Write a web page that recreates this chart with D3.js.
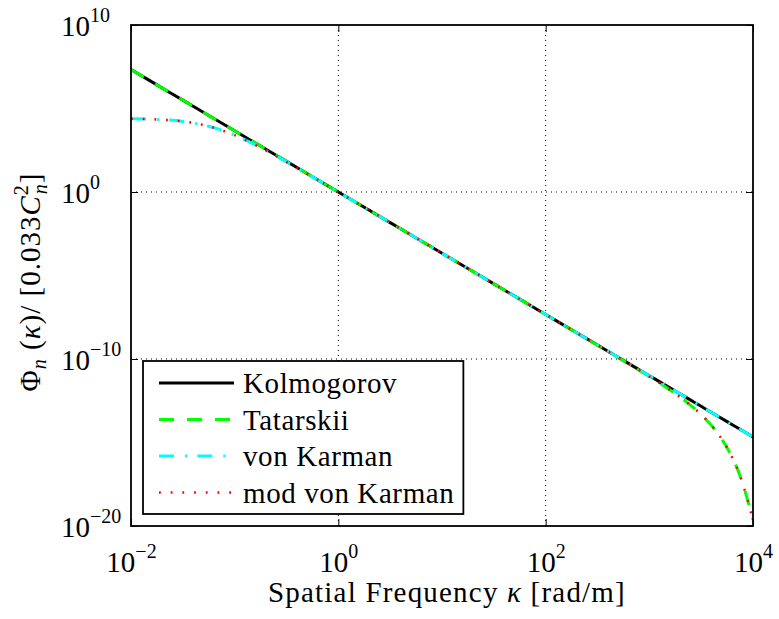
<!DOCTYPE html>
<html>
<head>
<meta charset="utf-8">
<script src="https://cdn.jsdelivr.net/npm/d3@7"></script>
<style>
  html, body { margin: 0; padding: 0; background: #fff; }
</style>
</head>
<body>
<svg id="chart" width="779" height="619"></svg>
<script>
// ---- data ----
const kappa = [1e-2, 1.778e-2, 3.162e-2, 5.623e-2, 0.1, 0.1778, 0.3162, 0.5623, 1, 1.778,
  3.162, 5.623, 10, 17.78, 31.62, 56.23, 100, 177.8, 316.2, 562.3,
  1000, 1334, 1778, 2371, 3162, 4217, 5623, 7499, 1e4];

const kolmogorov = [2.154e7, 2.610e6, 3.162e5, 3.831e4, 4642, 562.3, 68.13, 8.254, 1, 0.1212,
  1.468e-2, 1.778e-3, 2.154e-4, 2.610e-5, 3.162e-6, 3.831e-7, 4.642e-8, 5.623e-9, 6.813e-10, 8.254e-11,
  1e-11, 3.481e-12, 1.212e-12, 4.217e-13, 1.468e-13, 5.109e-14, 1.778e-14, 6.190e-15, 2.154e-15];

const tatarskii = [2.154e7, 2.610e6, 3.162e5, 3.831e4, 4642, 562.3, 68.13, 8.254, 1, 0.1212,
  1.468e-2, 1.778e-3, 2.154e-4, 2.610e-5, 3.162e-6, 3.831e-7, 4.642e-8, 5.603e-9, 6.735e-10, 7.962e-11,
  8.921e-12, 2.841e-12, 8.443e-13, 2.219e-13, 4.687e-14, 6.709e-15, 4.810e-16, 1.009e-17, 2.373e-20];

const vonKarman = [2.437e4, 2.214e4, 1.687e4, 8.673e3, 2522, 453.2, 63.45, 8.066, 0.9928, 0.1209,
  1.468e-2, 1.778e-3, 2.154e-4, 2.610e-5, 3.162e-6, 3.831e-7, 4.642e-8, 5.623e-9, 6.813e-10, 8.254e-11,
  1e-11, 3.481e-12, 1.212e-12, 4.217e-13, 1.468e-13, 5.109e-14, 1.778e-14, 6.190e-15, 2.154e-15];

const modVonKarman = [2.437e4, 2.214e4, 1.687e4, 8.673e3, 2522, 453.2, 63.45, 8.066, 0.9928, 0.1209,
  1.468e-2, 1.778e-3, 2.154e-4, 2.610e-5, 3.162e-6, 3.831e-7, 4.642e-8, 5.603e-9, 6.735e-10, 7.962e-11,
  8.921e-12, 2.841e-12, 8.443e-13, 2.219e-13, 4.687e-14, 6.709e-15, 4.810e-16, 1.009e-17, 2.373e-20];

const seriesNames = ["Kolmogorov", "Tatarskii", "von Karman", "mod von Karman"];
const xTickValues = [1e-2, 1e0, 1e2, 1e4];
const xTickExponents = ["−2", "0", "2", "4"];
const yTickValues = [1e-20, 1e-10, 1e0, 1e10];
const yTickExponents = ["−20", "−10", "0", "10"];

// ---- layout ----
const FONT = "Liberation Serif";
const L = 131, R = 753, T = 25, B = 526;
const svg = d3.select("#chart").style("font-family", FONT);
const x = d3.scaleLog().domain([1e-2, 1e4]).range([L, R]);
const y = d3.scaleLog().domain([1e-20, 1e10]).range([B, T]);

const styles = [
  { color: "#000000", width: 3, dash: null },
  { color: "#00ff00", width: 3, dash: "15,13" },
  { color: "#00ffff", width: 3, dash: "15,11,2,10.3" },
  { color: "#ff0000", width: 2.5, dash: "1.8,9.9" }
];
const seriesData = [kolmogorov, tatarskii, vonKarman, modVonKarman];

svg.append("defs").append("clipPath").attr("id", "clip")
  .append("rect").attr("x", L).attr("y", T).attr("width", R - L).attr("height", B - T);

// grid
const grid = svg.append("g");
xTickValues.filter(v => v > 1e-2 && v < 1e4).forEach(v => {
  grid.append("line").attr("x1", x(v)).attr("x2", x(v)).attr("y1", T).attr("y2", B)
    .attr("stroke", "#000").attr("stroke-width", 1).attr("stroke-dasharray", "1,4");
});
yTickValues.filter(v => v > 1e-20 && v < 1e10).forEach(v => {
  grid.append("line").attr("x1", L).attr("x2", R).attr("y1", y(v)).attr("y2", y(v))
    .attr("stroke", "#000").attr("stroke-width", 1).attr("stroke-dasharray", "1,4");
});

// lines
const line = d3.line().x((d, i) => x(kappa[i])).y(d => y(d)).curve(d3.curveMonotoneX);
const lines = svg.append("g").attr("clip-path", "url(#clip)");
seriesData.forEach((s, k) => {
  lines.append("path").attr("d", line(s)).attr("fill", "none")
    .attr("stroke", styles[k].color).attr("stroke-width", styles[k].width)
    .attr("stroke-dasharray", styles[k].dash);
});

// axes
function supLabels(sel, exps) {
  sel.attr("font-family", null).style("font-family", FONT);
  sel.selectAll(".tick text").each(function (d, i) {
    const t = d3.select(this);
    t.text(null).attr("fill", "#000").attr("font-size", 29).style("font-family", FONT);
    t.append("tspan").text("10");
    t.append("tspan").attr("font-size", 20).attr("dy", -14).text(exps[i]);
  });
}
const xAxis = svg.append("g").attr("transform", `translate(0,${B})`)
  .call(d3.axisBottom(x).tickValues(xTickValues).tickSizeInner(-7).tickSizeOuter(0).tickPadding(0));
xAxis.select(".domain").remove();
supLabels(xAxis, xTickExponents);
xAxis.selectAll(".tick text").attr("y", 45.5).attr("dy", null).attr("text-anchor", "middle");

const xAxisTop = svg.append("g").attr("transform", `translate(0,${T})`)
  .call(d3.axisTop(x).tickValues(xTickValues).tickSizeInner(-7).tickSizeOuter(0).tickFormat(""));
xAxisTop.select(".domain").remove();

const yAxis = svg.append("g").attr("transform", `translate(${L},0)`)
  .call(d3.axisLeft(y).tickValues(yTickValues).tickSizeInner(-7).tickSizeOuter(0));
yAxis.select(".domain").remove();
supLabels(yAxis, yTickExponents);
yAxis.selectAll(".tick text").attr("x", -70).attr("dy", null).attr("y", 10).attr("text-anchor", "start");

const yAxisRight = svg.append("g").attr("transform", `translate(${R},0)`)
  .call(d3.axisRight(y).tickValues(yTickValues).tickSizeInner(-7).tickSizeOuter(0).tickFormat(""));
yAxisRight.select(".domain").remove();

svg.selectAll(".tick line").attr("stroke", "#000").attr("stroke-width", 1);

// frame
svg.append("rect").attr("x", L).attr("y", T).attr("width", R - L).attr("height", B - T)
  .attr("fill", "none").attr("stroke", "#000").attr("stroke-width", 1.8);

// x label
const xl = svg.append("text").attr("x", 447).attr("y", 602).attr("text-anchor", "middle")
  .style("font-family", FONT).attr("font-size", 29).attr("letter-spacing", 1.2).attr("fill", "#000");
xl.append("tspan").text("Spatial Frequency ");
xl.append("tspan").attr("font-style", "italic").text("κ");
xl.append("tspan").text("  [rad/m]");

// y label
const yl = svg.append("text").attr("transform", "translate(40,282) rotate(-90)")
  .style("font-family", FONT).attr("text-anchor", "middle").attr("font-size", 29)
  .attr("letter-spacing", 1).attr("fill", "#000");
yl.append("tspan").text("Φ");
yl.append("tspan").attr("font-style", "italic").attr("font-size", 20).attr("dy", 6).text("n");
yl.append("tspan").attr("dy", -6).text(" (");
yl.append("tspan").attr("font-style", "italic").text("κ");
yl.append("tspan").text(")/ [0.033");
yl.append("tspan").attr("font-style", "italic").text("C");
yl.append("tspan").attr("font-size", 20).attr("dy", -12).text("2");
yl.append("tspan").attr("font-style", "italic").attr("font-size", 20).attr("dx", -10).attr("dy", 19).text("n");
yl.append("tspan").attr("dy", -7).text("]");

// legend
const lg = svg.append("g");
const legBox = lg.append("rect").attr("x", 143).attr("y", 361).attr("height", 153)
  .attr("fill", "#fff").attr("stroke", "#000").attr("stroke-width", 1.8);
const rowY = [383, 419.5, 456, 492.5];
let maxRight = 0;
seriesNames.forEach((name, k) => {
  lg.append("line").attr("x1", 159).attr("x2", 234).attr("y1", rowY[k]).attr("y2", rowY[k])
    .attr("stroke", styles[k].color).attr("stroke-width", styles[k].width)
    .attr("stroke-dasharray", styles[k].dash);
  const t = lg.append("text").attr("x", 243).attr("y", rowY[k] + 10).style("font-family", FONT)
    .attr("font-size", 29).attr("letter-spacing", 0.6).attr("fill", "#000").text(name);
  const bb = t.node().getBBox();
  maxRight = Math.max(maxRight, bb.x + bb.width);
});
legBox.attr("width", maxRight + 9 - 143);
</script>
</body>
</html>
